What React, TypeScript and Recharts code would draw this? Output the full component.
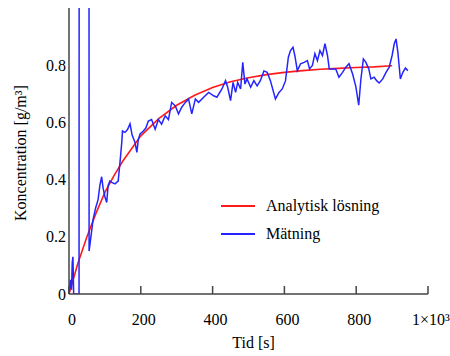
import React from 'react'
import { LineChart, Line, XAxis, YAxis, Legend } from 'recharts'

// Analytisk lösning (red)
const analytiskTid = [0, 25, 50, 75, 100, 125, 150, 200, 250, 300, 350, 400, 450, 500, 550, 600, 650, 700, 750, 800, 850, 900]
const analytiskKonc = [0, 0.108, 0.2, 0.282, 0.355, 0.413, 0.465, 0.553, 0.613, 0.66, 0.695, 0.722, 0.742, 0.756, 0.767, 0.775, 0.781, 0.786, 0.789, 0.792, 0.794, 0.798]

// Mätning (blue); the 42 s point is the glitch that shoots off the top
const matningTid = [
  0, 4, 7, 9, 11, 13, 28, 42, 56, 61, 67, 74, 81, 86, 91, 95, 100, 105, 109, 114, 119, 128, 137, 142, 147, 149,
  156, 163, 170, 176, 184, 189, 193, 198, 207, 214, 221, 230, 240, 249, 258, 268, 277, 286, 296, 305, 314, 324,
  333, 342, 352, 361, 375, 389, 403, 412, 426, 436, 442, 450, 457, 464, 470, 478, 484, 490, 496, 506, 515, 524,
  533, 543, 552, 561, 575, 585, 594, 603, 611, 617, 624, 629, 636, 645, 655, 664, 670, 678, 685, 692, 699, 706,
  713, 720, 725, 734, 743, 752, 762, 771, 780, 790, 799, 807, 813, 820, 827, 835, 841, 850, 857, 864, 874, 883,
  892, 900, 906, 911, 916, 923, 930, 937, 944,
]
const matningKonc = [
  0, 0.05, 0.015, 0.11, 0.13, 0, 0, 60, 0.15, 0.2, 0.26, 0.3, 0.33, 0.38, 0.41, 0.37, 0.34, 0.32, 0.38, 0.395, 0.39, 0.385, 0.395, 0.46, 0.53, 0.57,
  0.565, 0.575, 0.595, 0.555, 0.53, 0.495, 0.54, 0.56, 0.57, 0.58, 0.605, 0.61, 0.576, 0.61, 0.594, 0.623, 0.61, 0.67, 0.658, 0.63, 0.653, 0.67,
  0.682, 0.63, 0.682, 0.67, 0.688, 0.705, 0.693, 0.688, 0.717, 0.746, 0.723, 0.676, 0.74, 0.705, 0.74, 0.717, 0.81, 0.734, 0.752, 0.723, 0.746, 0.728,
  0.746, 0.78, 0.775, 0.746, 0.682, 0.705, 0.717, 0.745, 0.828, 0.851, 0.863, 0.834, 0.781, 0.805, 0.81, 0.816, 0.787, 0.799, 0.84, 0.816, 0.851, 0.834,
  0.875, 0.834, 0.787, 0.787, 0.787, 0.758, 0.775, 0.793, 0.805, 0.769, 0.725, 0.66, 0.75, 0.822, 0.81, 0.787, 0.752, 0.758, 0.746, 0.738, 0.752, 0.775,
  0.793, 0.834, 0.875, 0.892, 0.846, 0.752, 0.775, 0.79, 0.781,
]

const xTicks = [0, 200, 400, 600, 800, 1000]
const xInnerTicks = [200, 400, 600, 800]
const yTicks = [0, 0.2, 0.4, 0.6, 0.8]
const yInnerTicks = [0.2, 0.4, 0.6, 0.8]

const analytisk = analytiskTid.map((t, i) => ({ t, c: analytiskKonc[i] }))
const matning = matningTid.map((t, i) => ({ t, c: matningKonc[i] }))

const FONT = "'Times New Roman', 'Liberation Serif', Times, 'DejaVu Serif', serif"
const FRAME = '#444'
const TEXT = '#000'

const renderLegend = (props: any) => (
  <div style={{ fontFamily: FONT, fontSize: 16, color: TEXT }}>
    {(props.payload || []).map((item: any) => (
      <div key={item.value} style={{ display: 'flex', alignItems: 'center', height: 28 }}>
        <svg width={34} height={4}>
          <line x1={0} y1={2} x2={34} y2={2} stroke={item.color} strokeWidth={2} />
        </svg>
        <span style={{ marginLeft: 11 }}>{item.value}</span>
      </div>
    ))}
  </div>
)

export default function App() {
  // pinned to the page corner so the 8px body margin can't push it into scroll
  return (
    <div style={{ position: 'absolute', left: 0, top: 0, width: 450, height: 356, overflow: 'hidden', fontFamily: FONT }}>
      <LineChart width={450} height={356} margin={{ top: 8, right: 22, bottom: 0, left: 0 }} style={{ fontFamily: FONT }}>
        <XAxis
          dataKey="t"
          type="number"
          domain={[0, 1000]}
          ticks={xTicks}
          interval={0}
          stroke={FRAME}
          strokeWidth={1.5}
          tickSize={-8}
          tickMargin={28}
          height={62}
          tick={{ fontSize: 16, fill: TEXT, dx: 3, fontFamily: FONT }}
          tickFormatter={(v) => (v === 1000 ? '1×10³' : String(v))}
          label={{ value: 'Tid [s]', position: 'center', dx: 5, dy: 17, fontSize: 16, fill: TEXT, fontFamily: FONT }}
        />
        <XAxis
          xAxisId="top"
          orientation="top"
          dataKey="t"
          type="number"
          domain={[0, 1000]}
          ticks={xInnerTicks}
          interval={0}
          stroke={FRAME}
          strokeWidth={1.5}
          tickSize={-8}
          height={0}
          tick={false}
        />
        <YAxis
          type="number"
          domain={[0, 1]}
          allowDataOverflow
          ticks={yTicks}
          interval={0}
          width={69}
          stroke={FRAME}
          strokeWidth={1.5}
          tickLine={false}
          tickSize={0}
          tickMargin={3}
          tick={{ fontSize: 16, fill: TEXT, fontFamily: FONT }}
          tickFormatter={(v) => (v === 0 ? '0' : v.toFixed(1))}
          label={{ value: 'Koncentration [g/m³]', angle: -90, position: 'center', dx: -14, dy: 2, fontSize: 16, fill: TEXT, fontFamily: FONT }}
        />
        <YAxis
          yAxisId="right"
          orientation="right"
          type="number"
          domain={[0, 1]}
          ticks={yInnerTicks}
          interval={0}
          width={0}
          stroke={FRAME}
          strokeWidth={1.5}
          tickSize={-8}
          tick={false}
        />
        <Legend
          layout="vertical"
          align="center"
          verticalAlign="middle"
          content={renderLegend}
          wrapperStyle={{ position: 'absolute', left: 221, top: 192, width: 'auto' }}
        />
        <Line
          data={analytisk}
          dataKey="c"
          name="Analytisk lösning"
          type="linear"
          stroke="#ff1a1a"
          strokeWidth={1.6}
          dot={false}
          isAnimationActive={false}
        />
        <Line
          data={matning}
          dataKey="c"
          name="Mätning"
          type="linear"
          stroke="#2424ff"
          strokeWidth={1.5}
          dot={false}
          isAnimationActive={false}
        />
      </LineChart>
    </div>
  )
}
